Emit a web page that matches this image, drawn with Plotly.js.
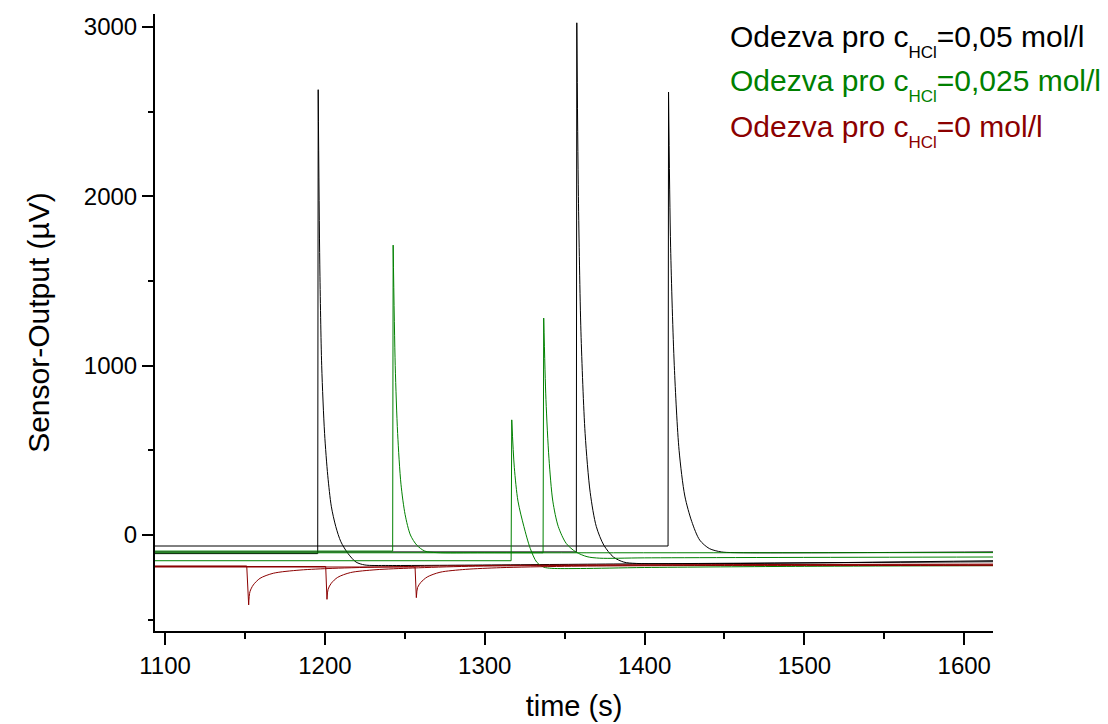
<!DOCTYPE html>
<html>
<head>
<meta charset="utf-8">
<script src="https://cdn.plot.ly/plotly-3.0.1.min.js"></script>
<style>
  html, body { margin: 0; padding: 0; background: #fff; }
  #chart { width: 1108px; height: 724px; }
</style>
</head>
<body>
<div id="chart"></div>
<script>
// Sensor response runs: time (s) and sensor output (µV), one pair of arrays per run.
// Each run: flat baseline, step up (or down) at injection, then relaxation.

// c(HCl) = 0.05 mol/l
const blackRun1T = [1093.7, 1195.5, 1195.8, 1196.8, 1198.0, 1199.8, 1201.8, 1204.0, 1206.8, 1210.0, 1214.5, 1219.5, 1225, 1240, 1400, 1618];
const blackRun1V = [-110, -110, 2630, 1600, 1000, 600, 350, 170, 50, -40, -110, -160, -177, -180, -170, -158];
const blackRun2T = [1093.7, 1357.3, 1357.6, 1358.6, 1360.2, 1362.8, 1366.0, 1369.8, 1374.5, 1380.5, 1387.0, 1395, 1618];
const blackRun2V = [-100, -100, 3025, 2000, 1200, 600, 250, 50, -60, -130, -160, -168, -152];
const blackRun3T = [1093.7, 1414.7, 1415.0, 1416.3, 1418.6, 1421.6, 1425.2, 1429.5, 1434.5, 1440.5, 1448.0, 1456, 1618];
const blackRun3V = [-65, -65, 2616, 1700, 1000, 500, 230, 80, -30, -80, -100, -104, -100];

// c(HCl) = 0.025 mol/l
const greenRun1T = [1093.7, 1242.4, 1242.7, 1244.0, 1245.5, 1247.6, 1250.2, 1253.5, 1257.5, 1262.5, 1270, 1300, 1618];
const greenRun1V = [-95, -95, 1712, 1000, 600, 300, 120, 0, -60, -95, -104, -105, -104];
const greenRun2T = [1093.7, 1316.5, 1316.9, 1318.5, 1320.8, 1324.5, 1328.5, 1332.5, 1337.0, 1342, 1360, 1400, 1500, 1618];
const greenRun2V = [-152, -152, 680, 400, 200, 50, -80, -160, -190, -197, -198, -192, -185, -181];
const greenRun3T = [1093.7, 1336.5, 1336.9, 1338.3, 1340.2, 1342.6, 1346.0, 1351.0, 1357.0, 1364.0, 1372, 1400, 1618];
const greenRun3V = [-105, -105, 1281, 800, 450, 200, 50, -50, -100, -128, -137, -135, -130];

// c(HCl) = 0 mol/l
const redRun1T = [1093.7, 1151.1, 1152.3, 1153.1, 1155.2, 1159.4, 1167.7, 1184.4, 1205, 1240, 1300, 1450, 1618];
const redRun1V = [-183, -183, -413, -335, -295, -256, -226, -207, -197, -188, -180, -175, -172];
const redRun2T = [1093.7, 1200.5, 1201.3, 1202.0, 1204.0, 1208.0, 1216.0, 1232.0, 1255, 1290, 1400, 1618];
const redRun2V = [-186, -186, -380, -320, -285, -250, -222, -205, -195, -185, -178, -176];
const redRun3T = [1093.7, 1256.4, 1257.2, 1258.0, 1260.0, 1264.0, 1272.0, 1288.0, 1310, 1350, 1450, 1618];
const redRun3V = [-189, -189, -370, -310, -280, -248, -220, -203, -193, -185, -180, -181];

const seriesColors = { high: '#000000', mid: '#008000', zero: '#8B0000' };

const sub = '<sub><sub><span style="font-size:17px">HCl</span></sub></sub>';
const legendLabels = [
  'Odezva pro c' + sub + '=0,05 mol/l',
  'Odezva pro c' + sub + '=0,025 mol/l',
  'Odezva pro c' + sub + '=0 mol/l'
];

const xTickVals = [1100, 1200, 1300, 1400, 1500, 1600];
const yTickVals = [0, 1000, 2000, 3000];

// A run is drawn as its baseline + step (straight segments) and its relaxation (smoothed).
function run(t, v, color) {
  const k = 2; // index of the extreme point right after the step
  const line = { color: color, width: 1 };
  return [
    { x: t.slice(0, k + 1), y: v.slice(0, k + 1), type: 'scatter', mode: 'lines',
      line: line, hoverinfo: 'x+y', showlegend: false },
    { x: t.slice(k), y: v.slice(k), type: 'scatter', mode: 'lines',
      line: Object.assign({ shape: 'spline', smoothing: 0.8 }, line),
      hoverinfo: 'x+y', showlegend: false }
  ];
}

const traces = [].concat(
  run(blackRun1T, blackRun1V, seriesColors.high),
  run(blackRun2T, blackRun2V, seriesColors.high),
  run(blackRun3T, blackRun3V, seriesColors.high),
  run(greenRun1T, greenRun1V, seriesColors.mid),
  run(greenRun2T, greenRun2V, seriesColors.mid),
  run(greenRun3T, greenRun3V, seriesColors.mid),
  run(redRun1T, redRun1V, seriesColors.zero),
  run(redRun2T, redRun2V, seriesColors.zero),
  run(redRun3T, redRun3V, seriesColors.zero)
);

const font = 'Arial, "Liberation Sans", sans-serif';
const legendColors = [seriesColors.high, seriesColors.mid, seriesColors.zero];
const legendY = [0.957, 0.885, 0.811];

const layout = {
  width: 1108, height: 724,
  margin: { l: 155, r: 115, t: 14, b: 93 },
  paper_bgcolor: '#ffffff', plot_bgcolor: '#ffffff',
  font: { family: font, size: 24, color: '#000' },
  xaxis: {
    range: [1093.7, 1618],
    tickvals: xTickVals, ticktext: xTickVals.map(String),
    ticks: 'outside', ticklen: 12, tickwidth: 2, tickcolor: '#000',
    minor: { dtick: 50, tick0: 1050, ticks: 'outside', ticklen: 6, tickwidth: 2, tickcolor: '#000' },
    showline: true, linewidth: 2, linecolor: '#000', mirror: false,
    showgrid: false, zeroline: false,
    tickfont: { size: 24, family: font },
    title: { text: 'time (s)', font: { size: 29, family: font }, standoff: 18 }
  },
  yaxis: {
    range: [-567, 3077],
    tickvals: yTickVals, ticktext: yTickVals.map(String),
    ticks: 'outside', ticklen: 11, tickwidth: 2, tickcolor: '#000',
    minor: { dtick: 500, tick0: -500, ticks: 'outside', ticklen: 5, tickwidth: 2, tickcolor: '#000' },
    showline: true, linewidth: 2, linecolor: '#000', mirror: false,
    showgrid: false, zeroline: false,
    tickfont: { size: 24, family: font },
    title: { text: 'Sensor-Output (µV)', font: { size: 30, family: font }, standoff: 25 }
  },
  annotations: legendLabels.map((txt, i) => ({
    text: txt, xref: 'paper', yref: 'paper',
    x: 0.684, y: legendY[i], xanchor: 'left', yanchor: 'middle',
    showarrow: false, align: 'left',
    font: { size: 30, family: font, color: legendColors[i] }
  }))
};

Plotly.newPlot('chart', traces, layout, { displayModeBar: false, staticPlot: true });
</script>
</body>
</html>
